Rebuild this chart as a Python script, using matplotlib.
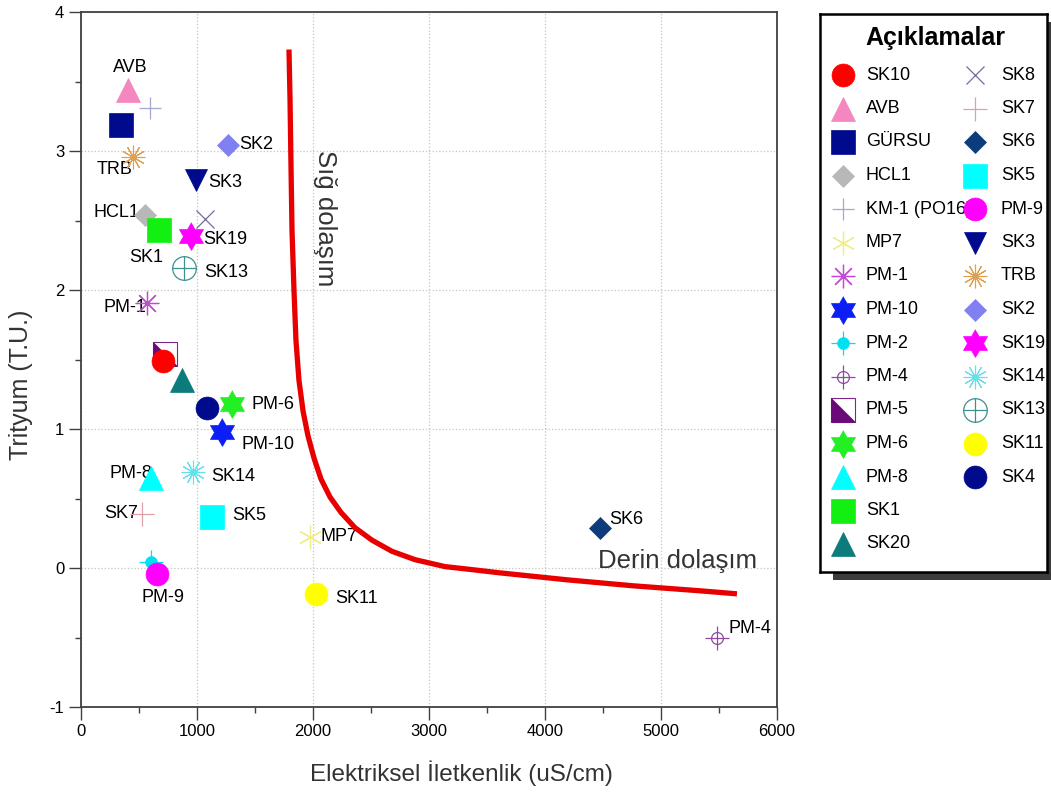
import numpy as np
import matplotlib
matplotlib.use('Agg')
import matplotlib.pyplot as plt
from matplotlib.ticker import MultipleLocator

plt.rcParams['font.family'] = ['Liberation Sans', 'DejaVu Sans']
plt.rcParams['axes.unicode_minus'] = False
NARROW = ['Liberation Sans Narrow', 'Liberation Sans', 'DejaVu Sans']

# stations in legend order (first column, then second column)
stations = ['SK10', 'AVB', 'GÜRSU', 'HCL1', 'KM-1 (PO16)', 'MP7', 'PM-1', 'PM-10',
            'PM-2', 'PM-4', 'PM-5', 'PM-6', 'PM-8', 'SK1', 'SK20',
            'SK8', 'SK7', 'SK6', 'SK5', 'PM-9', 'SK3', 'TRB', 'SK2', 'SK19',
            'SK14', 'SK13', 'SK11', 'SK4']
ec_values = [707, 405, 345, 552, 595, 1974, 569, 1216,
             603, 5483, 724, 1302, 603, 672, 870,
             1069, 526, 4474, 1129, 655, 991, 448, 1267, 948,
             966, 888, 2026, 1086]
tritium_values = [1.49, 3.44, 3.19, 2.54, 3.31, 0.22, 1.91, 0.98,
                  0.04, -0.50, 1.54, 1.18, 0.65, 2.43, 1.35,
                  2.51, 0.39, 0.29, 0.37, -0.04, 2.79, 2.96, 3.04, 2.39,
                  0.69, 2.16, -0.19, 1.15]

# shallow / deep circulation boundary
curve_ec = [1793, 1802, 1810, 1819, 1836, 1853, 1879, 1914, 1957, 2009,
            2069, 2147, 2241, 2362, 2509, 2681, 2879, 3138, 3353, 3612,
            4190, 4759, 5336, 5655]
curve_tritium = [3.73, 3.37, 2.91, 2.43, 2.00, 1.64, 1.35, 1.13, 0.95, 0.79,
                 0.64, 0.51, 0.40, 0.29, 0.20, 0.12, 0.06, 0.01, -0.01, -0.035,
                 -0.085, -0.128, -0.164, -0.186]

# which stations carry a text label on the plot
labelled = ['AVB', 'TRB', 'HCL1', 'SK1', 'PM-1', 'SK2', 'SK3', 'SK19', 'SK13',
            'PM-6', 'PM-10', 'PM-8', 'SK14', 'SK7', 'SK5', 'MP7', 'PM-9',
            'SK11', 'SK6', 'PM-4']

# label placement (offset in pixels, alignment)
label_pos = {
    'AVB': (2, 22, 'center'), 'TRB': (-18, -13, 'center'),
    'HCL1': (-6, 2, 'right'), 'SK1': (-13, -27, 'center'),
    'PM-1': (-1, -5, 'right'), 'SK2': (11, 1, 'left'),
    'SK3': (12, -2, 'left'), 'SK19': (12, -4, 'left'),
    'SK13': (20, -5, 'left'), 'PM-6': (19, -1, 'left'),
    'PM-10': (19, -13, 'left'), 'PM-8': (1, 4, 'right'),
    'SK14': (18, -4, 'left'), 'SK7': (-4, 0, 'right'),
    'SK5': (20, 1, 'left'), 'MP7': (11, 1, 'left'),
    'PM-9': (6, -24, 'center'), 'SK11': (19, -4, 'left'),
    'SK6': (9, 8, 'left'), 'PM-4': (11, 9, 'left'),
}

# marker shapes
ang = np.deg2rad(90 + 30 * np.arange(12))
rad = np.where(np.arange(12) % 2 == 0, 1.0, 1 / np.sqrt(3))
hexagram = np.column_stack([rad * np.cos(ang), rad * np.sin(ang)])
half_sq = [(-1, 1), (-1, -1), (1, -1), (-1, 1)]

NAVY = '#000a8c'


def solid(marker, ms, c):
    return dict(marker=marker, ms=ms, mfc=c, mec=c, mew=0.5)


def thin(marker, ms, c, mew=0.9):
    return dict(marker=marker, ms=ms, mfc='none', mec=c, mew=mew)


styles = {
    'SK10': [solid('o', 16.5, '#ff0000')],
    'AVB': [solid('^', 17, '#f486c0')],
    'GÜRSU': [solid('s', 17.5, NAVY)],
    'HCL1': [solid('D', 11.5, '#b8b8b8')],
    'KM-1 (PO16)': [thin('+', 16.5, '#a6a6d2')],
    'MP7': [thin((6, 2, 0), 17, '#eeee88')],
    'PM-1': [thin((8, 2, 0), 17, '#c04ccf')],
    'PM-10': [solid(hexagram, 20, '#0a1ef5')],
    'PM-2': [thin('+', 17, '#00e0f0'), solid('o', 8.5, '#00e0f0')],
    'PM-4': [thin('+', 17, '#8e4a9e'), thin('o', 8.5, '#8e4a9e')],
    'PM-5': [dict(marker='s', ms=17, mfc='white', mec='#7a2a86', mew=0.8),
             solid(half_sq, 17, '#6a0a78')],
    'PM-6': [solid(hexagram, 20, '#22f022')],
    'PM-8': [solid('^', 17, '#00ffff')],
    'SK1': [solid('s', 17, '#11f011')],
    'SK20': [solid('^', 17, '#0b7b7b')],
    'SK8': [thin('x', 12.5, '#6e6e9e')],
    'SK7': [thin('+', 17, '#e0a0a8')],
    'SK6': [solid('D', 11.5, '#0d3c7c')],
    'SK5': [solid('s', 17, '#00ffff')],
    'PM-9': [solid('o', 16.5, '#ff00ff')],
    'SK3': [solid('v', 16.5, NAVY)],
    'TRB': [thin((12, 2, 0), 17, '#e0a050', 0.8)],
    'SK2': [solid('D', 11.5, '#8080f0')],
    'SK19': [solid(hexagram, 20, '#ff00ff')],
    'SK14': [thin((12, 2, 0), 17, '#66e0ea', 0.8)],
    'SK13': [thin('o', 17, '#3c9090'), thin('+', 17, '#3c9090')],
    'SK11': [solid('o', 16.5, '#ffff00')],
    'SK4': [solid('o', 16.5, NAVY)],
}


def draw_marker(ax, x, y, name, z=4):
    for layer in styles[name]:
        ax.plot([x], [y], linestyle='none', zorder=z, **layer)


W, H = 1051, 792
fig = plt.figure(figsize=(W / 100, H / 100), dpi=100)
ax = fig.add_axes([81 / W, 1 - 707 / H, 696 / W, 695 / H])

for name, x, y in zip(stations, ec_values, tritium_values):
    draw_marker(ax, x, y, name, z=5 if name == 'SK10' else 4)

for name in labelled:
    i = stations.index(name)
    dx, dy, ha = label_pos[name]
    ax.annotate(name, (ec_values[i], tritium_values[i]), xytext=(dx, dy),
                textcoords='offset pixels', ha=ha, va='center', fontsize=13,
                zorder=3)

ax.plot(curve_ec, curve_tritium, color='#e80000', lw=3.8, zorder=3.5,
        solid_joinstyle='round', solid_capstyle='butt')

ax.text(2103, 2.52, 'Sığ dolaşım', rotation=270, ha='center', va='center',
        fontsize=18.5, color='#333333')
ax.text(5147, 0.05, 'Derin dolaşım', ha='center', va='center',
        fontsize=18.5, color='#333333')

ax.set_xlim(0, 6000)
ax.set_ylim(-1, 4)
ax.xaxis.set_major_locator(MultipleLocator(1000))
ax.xaxis.set_minor_locator(MultipleLocator(500))
ax.yaxis.set_major_locator(MultipleLocator(1))
ax.yaxis.set_minor_locator(MultipleLocator(0.5))
ax.grid(which='major', linestyle=':', color='#c4c4c4', lw=0.9)
ax.set_axisbelow(True)
ax.tick_params(which='major', length=9, width=1.0, color='#404040',
               labelsize=12, pad=3)
ax.tick_params(which='minor', length=4.5, width=1.0, color='#404040')
for s in ax.spines.values():
    s.set_color('#404040')
    s.set_linewidth(1.3)
for lbl in ax.get_xticklabels():
    lbl.set_family(NARROW)

fig.text(461 / W, 1 - 773 / H, 'Elektriksel İletkenlik (uS/cm)', ha='center',
         va='center', fontsize=17.5, family=NARROW, color='#333333')
fig.text(21 / W, 1 - 385 / H, 'Trityum (T.U.)', ha='center', va='center',
         rotation=90, fontsize=18, color='#333333')

# legend box with drop shadow
shadow = fig.add_axes([833 / W, 1 - 580 / H, 240 / W, 558 / H])
shadow.set_facecolor('#3c3c3c')
shadow.set_xticks([])
shadow.set_yticks([])
for s in shadow.spines.values():
    s.set_visible(False)

lax = fig.add_axes([820 / W, 1 - 572 / H, 227 / W, 558 / H])
lax.set_xlim(820, 1047)
lax.set_ylim(572, 14)
lax.set_xticks([])
lax.set_yticks([])
for s in lax.spines.values():
    s.set_color('black')
    s.set_linewidth(1.8)
lax.text(935, 38, 'Açıklamalar', ha='center', va='center', fontsize=18,
         fontweight='bold')

n_first = 15
for i, name in enumerate(stations):
    col, row = (0, i) if i < n_first else (1, i - n_first)
    mx = 843 if col == 0 else 975
    tx = 866 if col == 0 else 1001
    y = 75 + row * 33.5
    draw_marker(lax, mx, y, name, z=5)
    lax.text(tx, y, name, va='center', fontsize=13, zorder=3)

fig.savefig('out.png', dpi=100)
